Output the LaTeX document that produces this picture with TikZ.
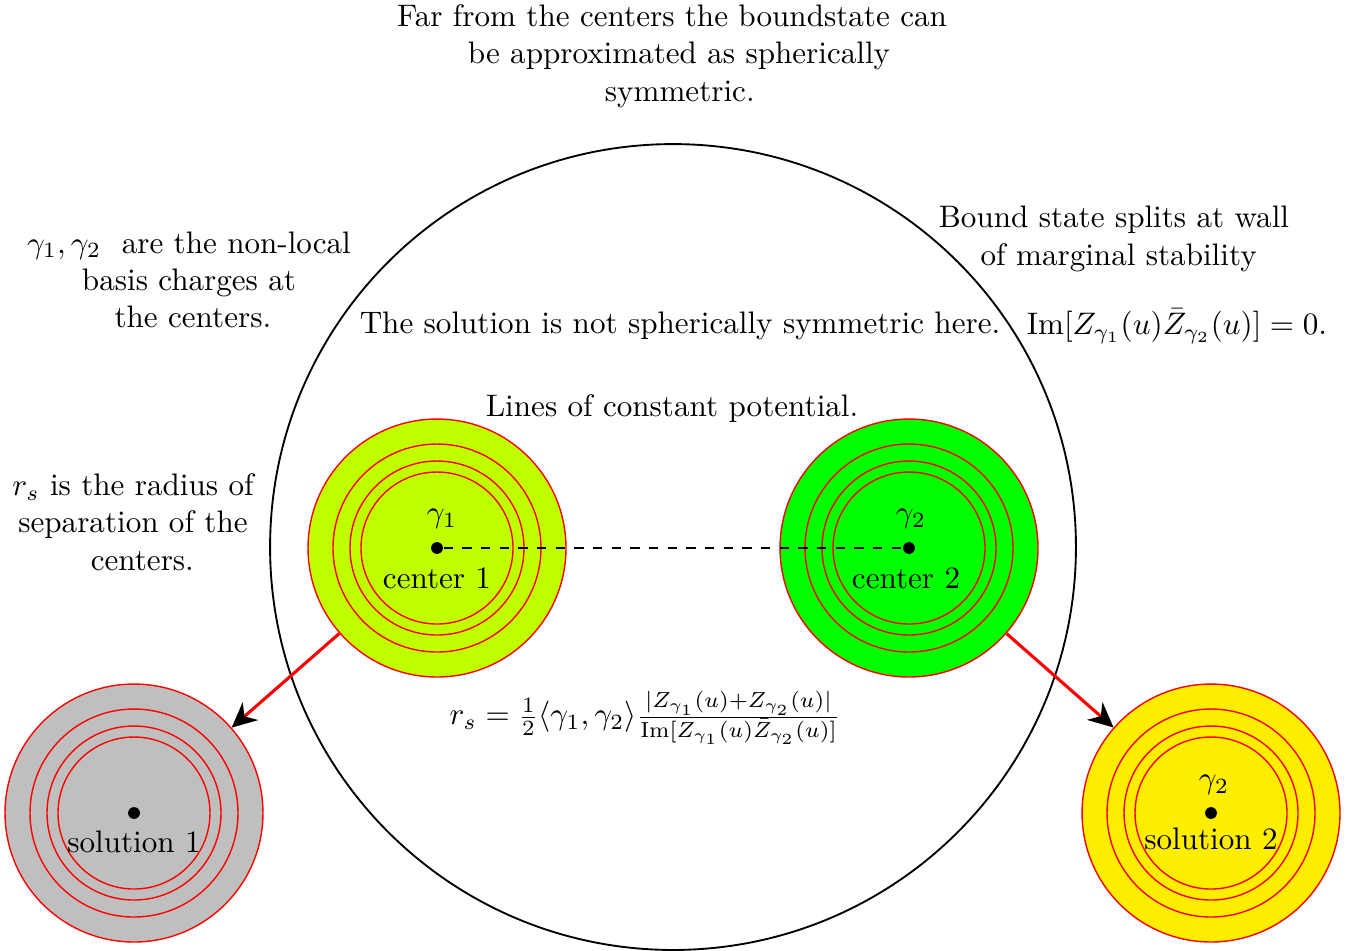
\documentclass[tikz,border=0pt]{standalone}
\usepackage{amsmath}
\usetikzlibrary{arrows.meta}
\definecolor{limefill}{RGB}{191,255,0}
\definecolor{greenfill}{RGB}{0,255,0}
\definecolor{grayfill}{RGB}{191,191,191}
\definecolor{yellowfill}{RGB}{255,238,0}
\begin{document}
\begin{tikzpicture}[x=0.3214pt,y=-0.3214pt,
  disk/.style={circle,draw=red,line width=0.45pt,minimum size=82.9pt,inner sep=0pt},
  ring/.style={draw=red,line width=0.45pt},
  dotnode/.style={circle,fill=black,inner sep=0pt,minimum size=3.8pt},
  lbl/.style={inner sep=0pt,align=center},
  splitarrow/.style={red,line width=1pt,-{Stealth[black,length=8pt,width=7.5pt,inset=2.5pt]}}]
\useasboundingbox (0,0) rectangle (1354,950);
% big circle
\node[circle,draw,line width=0.6pt,minimum size=259pt,inner sep=0pt] (big) at (673,547) {};
% disks
\node[disk,fill=limefill] (c1) at (437,548) {};
\node[disk,fill=greenfill] (c2) at (909,548) {};
\node[disk,fill=grayfill] (s1) at (134,813) {};
\node[disk,fill=yellowfill] (s2) at (1211,813) {};
\foreach \n in {c1,c2,s1,s2}{
  \foreach \r in {104,87,76}{
    \draw[ring] (\n.center) circle[radius=\r];
  }
}
% dots
\node[dotnode] (d1) at (c1.center) {};
\node[dotnode] (d2) at (c2.center) {};
\node[dotnode] (d3) at (s1.center) {};
\node[dotnode] (d4) at (s2.center) {};
\draw[dashed,line width=0.6pt] (d1) -- (d2);
% arrows
\draw[splitarrow] (c1) -- (s1);
\draw[splitarrow] (c2) -- (s2);
% labels in disks
\node[lbl] (g1) at (442,519) {$\gamma_1$};
\node[lbl] (l1) at (437,578) {center 1};
\node[lbl] (g2) at (911,519) {$\gamma_2$};
\node[lbl] (l2) at (906,578) {center 2};
\node[lbl] (l3) at (134,842) {solution 1};
\node[lbl] (g4) at (1214,785) {$\gamma_2$};
\node[lbl] (l4) at (1211,839) {solution 2};
% texts
\node[lbl] (top) at (672,56) {Far from the centers the boundstate can\\\hspace*{4.5pt}be approximated as spherically\\\hspace*{5pt}symmetric.};
\node[lbl] (left1) at (189,280) {$\gamma_1,\gamma_2$\ \ are the non-local\\basis charges at\\\hspace*{2.5pt}the centers.};
\node[lbl] (left2) at (133,522) {$r_s$ is the radius of\\separation of the\\\hspace*{6pt}centers.};
\node[lbl] (right1) at (1114,239) {Bound state splits at wall\\\hspace*{3pt}of marginal stability};
\node[lbl] (notsym) at (680,326) {The solution is not spherically symmetric here.};
\node[lbl] (lines) at (672,409) {Lines of constant potential.};
\node[lbl] (wall) at (1177,326) {$\mathrm{Im}[Z_{\gamma_1}(u)\bar{Z}_{\gamma_2}(u)]=0.$};
\node[lbl] (rs) at (645,718) {$r_s=\frac{1}{2}\langle\gamma_1,\gamma_2\rangle\frac{|Z_{\gamma_1}(u)+Z_{\gamma_2}(u)|}{\mathrm{Im}[Z_{\gamma_1}(u)\bar{Z}_{\gamma_2}(u)]}$};
\end{tikzpicture}
\end{document}
